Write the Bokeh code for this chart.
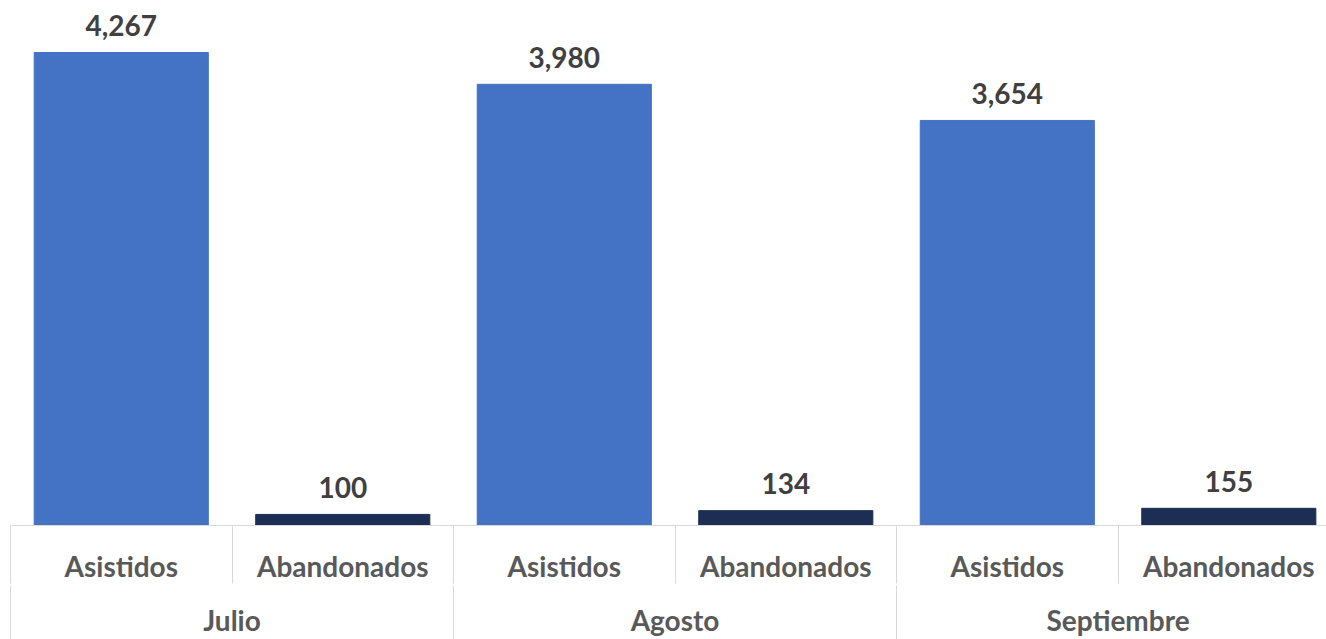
from bokeh.plotting import figure
from bokeh.models import ColumnDataSource, Range1d, LinearAxis, FixedTicker
from bokeh.core.properties import value
from bokeh.embed import file_html
from bokeh.resources import INLINE

months = ["Julio", "Agosto", "Septiembre"]
types = ["Asistidos", "Abandonados"]
asistidos = [4267, 3980, 3654]
abandonados = [100, 134, 155]

colors = {"Asistidos": "#4472C4", "Abandonados": "#1D2E55"}

xs, tops, fills, labels = [], [], [], []
for i, m in enumerate(months):
    for j, (t, v) in enumerate(zip(types, [asistidos[i], abandonados[i]])):
        xs.append(i * 2 + j + 0.5)
        tops.append(v)
        fills.append(colors[t])
        labels.append(f"{v:,}")

src = ColumnDataSource(dict(x=xs, top=tops, color=fills, label=labels))

p = figure(width=1326, height=639, output_backend="svg", toolbar_location=None,
           x_range=Range1d(0, 5.941), y_range=Range1d(0, 4736),
           x_axis_location=None, y_axis_location=None,
           min_border_left=10, min_border_right=0, min_border_top=0, min_border_bottom=0)
p.outline_line_color = None
p.xgrid.visible = False
p.ygrid.visible = False
p.background_fill_color = "white"

p.vbar(x="x", top="top", bottom=0, width=0.786, color="color", source=src)
p.text(x="x", y="top", text="label", source=src, text_align="center", text_baseline="middle",
       y_offset=-27, text_font=value("Lato"), text_font_style="bold", text_font_size="28px",
       text_color="#404040")

sub_ticks = [i * 2 + j + 0.5 for i in range(len(months)) for j in range(len(types))]
sub_labels = {sub_ticks[i * 2 + j]: t for i in range(len(months)) for j, t in enumerate(types)}
ax1 = LinearAxis(ticker=FixedTicker(ticks=sub_ticks, minor_ticks=list(range(0, 2 * len(months) + 1))),
                 major_label_overrides=sub_labels)
ax1.axis_line_color = "#D9D9D9"
ax1.major_tick_line_color = None
ax1.major_tick_out = 0
ax1.major_tick_in = 0
ax1.minor_tick_line_color = "#D9D9D9"
ax1.minor_tick_out = 58
ax1.minor_tick_in = 0
ax1.major_label_standoff = -35
ax1.major_label_text_font = "Lato"
ax1.major_label_text_font_style = "bold"
ax1.major_label_text_font_size = "28px"
ax1.major_label_text_color = "#595959"
p.add_layout(ax1, "below")

grp_ticks = [i * 2 + 1 for i in range(len(months))]
grp_labels = {grp_ticks[i]: m for i, m in enumerate(months)}
ax2 = LinearAxis(ticker=FixedTicker(ticks=grp_ticks, minor_ticks=list(range(0, 2 * len(months) + 1, 2))),
                 major_label_overrides=grp_labels)
ax2.axis_line_color = None
ax2.major_tick_line_color = None
ax2.major_tick_out = 0
ax2.major_tick_in = 0
ax2.minor_tick_line_color = "#D9D9D9"
ax2.minor_tick_out = 60
ax2.minor_tick_in = 0
ax2.major_label_standoff = -43
ax2.major_label_text_font = "Lato"
ax2.major_label_text_font_style = "bold"
ax2.major_label_text_font_size = "28px"
ax2.major_label_text_color = "#595959"
p.add_layout(ax2, "below")

open("out.html", "w").write(file_html(p, INLINE))
